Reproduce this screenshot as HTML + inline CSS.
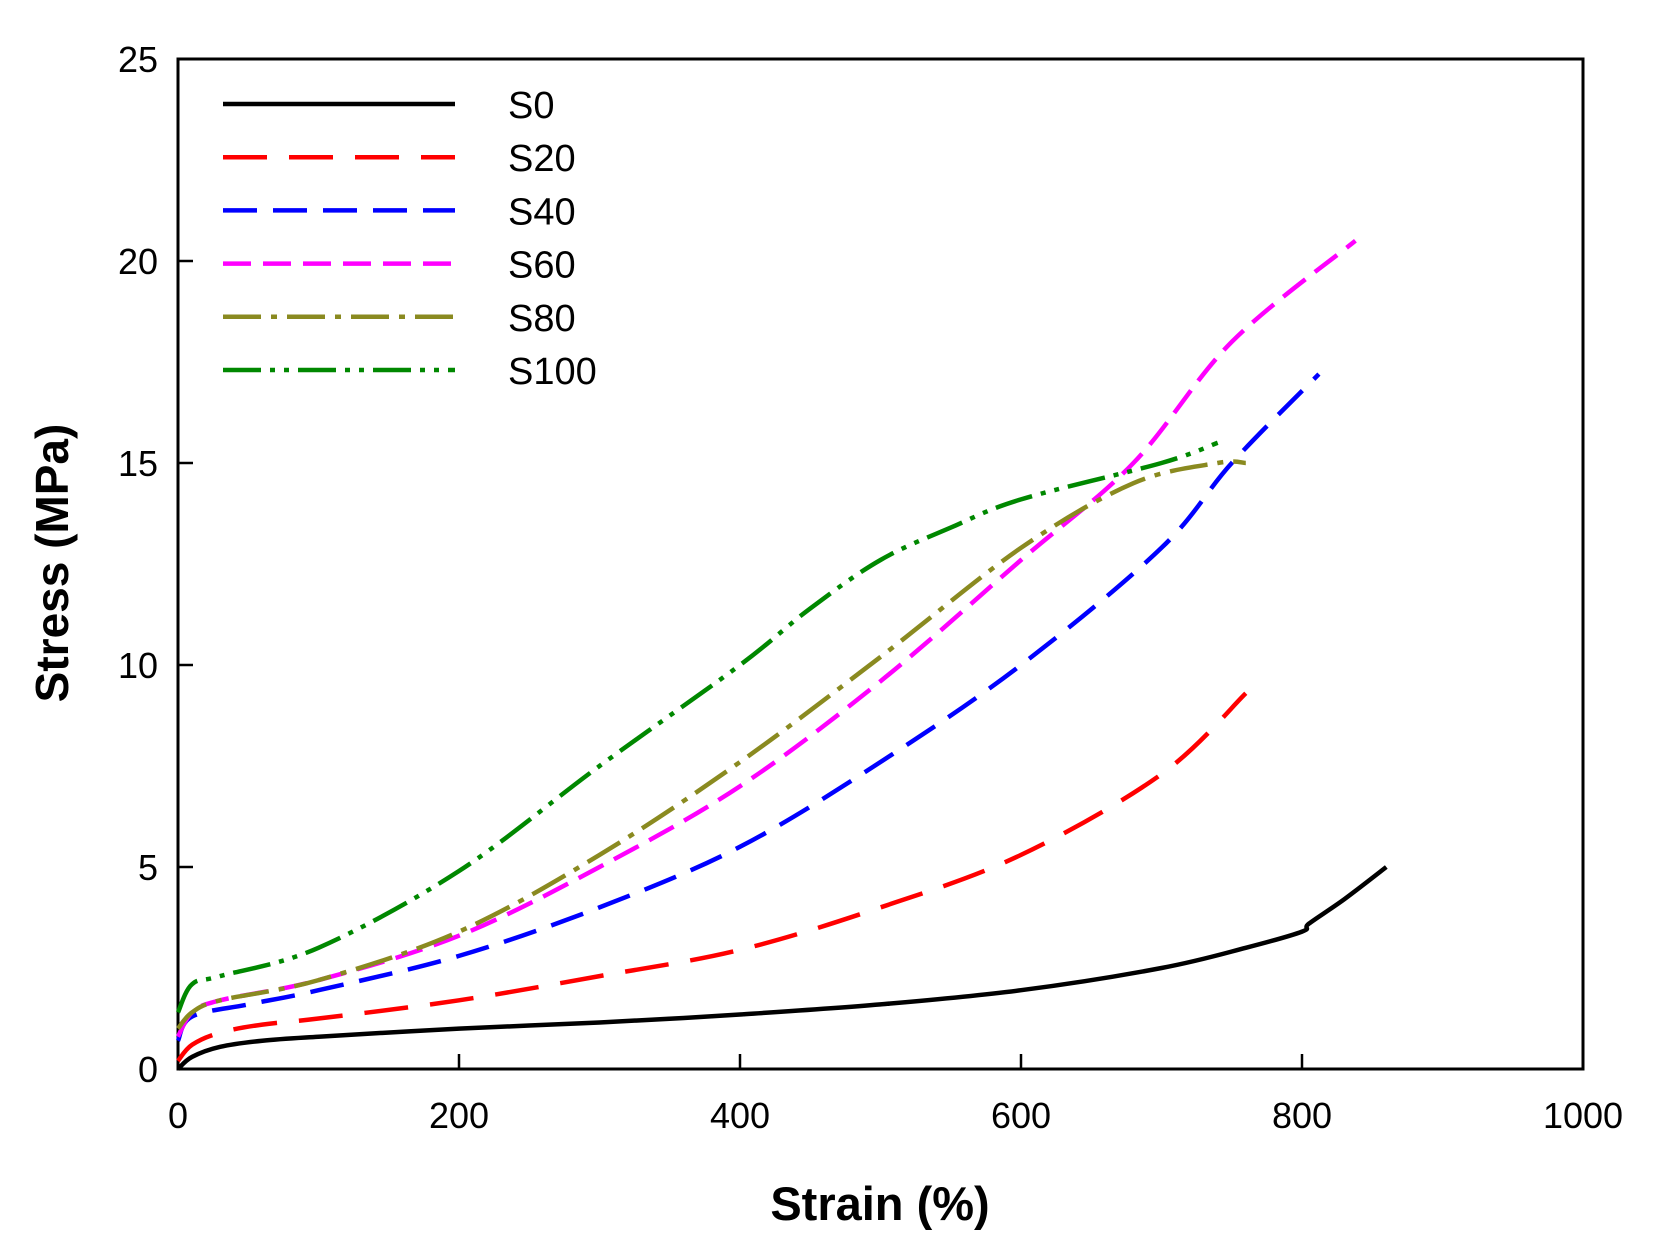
<!DOCTYPE html>
<html><head><meta charset="utf-8"><style>
body{margin:0;background:#fff;}
svg{display:block;}
text{font-family:"Liberation Sans",sans-serif;fill:#000;}
</style></head><body>
<svg id="s" width="1668" height="1250" viewBox="0 0 1668 1250" xmlns="http://www.w3.org/2000/svg">
<rect x="178" y="59" width="1405" height="1010" fill="none" stroke="#000" stroke-width="3"/>
<g stroke="#000" stroke-width="2.5">
<line x1="459" y1="1069" x2="459" y2="1054"/><line x1="740" y1="1069" x2="740" y2="1054"/>
<line x1="1021" y1="1069" x2="1021" y2="1054"/><line x1="1302" y1="1069" x2="1302" y2="1054"/>
<line x1="178" y1="867" x2="193" y2="867"/><line x1="178" y1="665" x2="193" y2="665"/>
<line x1="178" y1="463" x2="193" y2="463"/><line x1="178" y1="261" x2="193" y2="261"/>
</g>
<g font-size="36" text-anchor="end">
<text x="158" y="1082">0</text><text x="158" y="880">5</text><text x="158" y="678">10</text>
<text x="158" y="476">15</text><text x="158" y="274">20</text><text x="158" y="72">25</text>
</g>
<g font-size="36" text-anchor="middle">
<text x="178" y="1128">0</text><text x="459" y="1128">200</text><text x="740" y="1128">400</text>
<text x="1021" y="1128">600</text><text x="1302" y="1128">800</text><text x="1583" y="1128">1000</text>
</g>
<text x="880" y="1220" font-size="47" font-weight="bold" text-anchor="middle">Strain (%)</text>
<text transform="translate(68,563) rotate(-90)" font-size="46" font-weight="bold" text-anchor="middle">Stress (MPa)</text>
<g id="leg" font-size="38"></g>
<g id="lines" fill="none" stroke-width="4.5"></g>
</svg>
<script>
var X=u=>178+u*1.405, Y=v=>1069-v*40.4;
var S=[
["S0","#000","",[[0,0],[10,0.3],[30,0.55],[60,0.7],[100,0.8],[200,1.0],[300,1.15],[400,1.35],[500,1.6],[600,1.95],[700,2.5],[760,3.0],[800,3.4],[805,3.6],[830,4.2],[860,5.0]]],
["S20","#f00","44 22",[[0,0.2],[10,0.6],[30,0.9],[60,1.1],[100,1.25],[200,1.7],[300,2.3],[400,2.95],[500,4.0],[600,5.3],[700,7.3],[760,9.3]]],
["S40","#00f","34 16",[[0,0.7],[10,1.3],[50,1.6],[100,1.95],[200,2.8],[300,4.0],[400,5.5],[500,7.6],[600,10.0],[700,12.9],[750,15.0],[812,17.2]]],
["S60","#f0f","28 12",[[0,0.8],[10,1.4],[30,1.7],[100,2.2],[200,3.3],[300,5.0],[400,7.0],[500,9.6],[600,12.6],[680,15.0],[750,18],[838,20.5]]],
["S80","#8a8a20","38 10 6 10",[[0,1.0],[10,1.4],[30,1.7],[100,2.2],[200,3.4],[300,5.3],[400,7.6],[500,10.2],[600,12.9],[680,14.5],[740,15.0],[760,15.0]]],
["S100","#080","38 9 5 9 5 9",[[0,1.4],[10,2.1],[30,2.3],[100,3.0],[200,4.9],[300,7.5],[400,10.0],[450,11.4],[500,12.6],[550,13.4],[600,14.1],[700,15.0],[740,15.5]]]
];
function smooth(pts){
 var P=pts.map(q=>[X(q[0]),Y(q[1])]),d="M"+P[0][0].toFixed(1)+","+P[0][1].toFixed(1);
 for(var i=0;i<P.length-1;i++){
  var p0=P[Math.max(0,i-1)],p1=P[i],p2=P[i+1],p3=P[Math.min(P.length-1,i+2)];
  var c1=[p1[0]+(p2[0]-p0[0])/6,p1[1]+(p2[1]-p0[1])/6],c2=[p2[0]-(p3[0]-p1[0])/6,p2[1]-(p3[1]-p1[1])/6];
  d+=" C"+c1.map(v=>v.toFixed(1))+" "+c2.map(v=>v.toFixed(1))+" "+p2.map(v=>v.toFixed(1));
 }
 return d;
}
var ns="http://www.w3.org/2000/svg",L=document.getElementById("lines"),G=document.getElementById("leg");
S.forEach((s,i)=>{
 var p=document.createElementNS(ns,"path");
 p.setAttribute("d",smooth(s[3]));
 p.setAttribute("stroke",s[1]);p.setAttribute("stroke-linejoin","round");
 if(s[2])p.setAttribute("stroke-dasharray",s[2]);L.appendChild(p);
 var y=104+i*53.2;
 var l=document.createElementNS(ns,"line");
 l.setAttribute("x1",223);l.setAttribute("x2",455);l.setAttribute("y1",y);l.setAttribute("y2",y);
 l.setAttribute("stroke",s[1]);l.setAttribute("stroke-width",4.5);
 if(s[2])l.setAttribute("stroke-dasharray",s[2]);G.appendChild(l);
 var t=document.createElementNS(ns,"text");t.setAttribute("x",508);t.setAttribute("y",y+14);t.textContent=s[0];G.appendChild(t);
});
</script>
</body></html>
